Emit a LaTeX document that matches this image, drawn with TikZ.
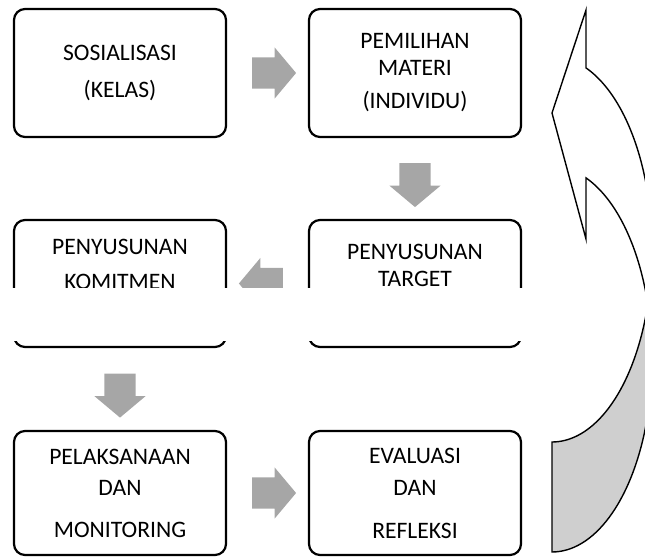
\documentclass[tikz,border=0pt]{standalone}
\usepackage{fontspec}
\setmainfont{Carlito}
\usetikzlibrary{shapes,arrows,positioning,calc}

\definecolor{flowgray}{HTML}{A6A6A6}
\definecolor{backgray}{HTML}{CFCFCF}

\begin{document}
\begin{tikzpicture}[x=1pt, y=-1pt,
  stage/.style={rectangle, draw, rounded corners=11, line width=2.2, minimum width=212, align=center, inner sep=0, font=\fontsize{23.6}{31}\selectfont},
  flow/.style={single arrow, fill=flowgray, minimum height=44, inner xsep=0, inner ysep=15.5, single arrow head extend=10, single arrow tip angle=100}]
\useasboundingbox (0,0) rectangle (645,557);
\clip (0,0) rectangle (645,557);

\node[stage, minimum height=128] (sos) at (120,73) {SOSIALISASI\\[6pt](KELAS)};
\node[stage, minimum height=128] (pem) at (415,73) {PEMILIHAN\\[-4pt]MATERI\\[2pt](INDIVIDU)};
\node[stage, minimum height=127, text depth=37] (tgt) at (415,283.5) {PENYUSUNAN\\[-4pt]TARGET};
\node[stage, minimum height=127, text depth=39] (kom) at (120,283.5) {PENYUSUNAN\\[4pt]KOMITMEN};
\node[stage, minimum height=124] (pel) at (120,493) {PELAKSANAAN\\DAN\\[11pt]MONITORING};
\node[stage, minimum height=124] (eva) at (415,493) {EVALUASI\\[1pt]DAN\\[12pt]REFLEKSI};

\node[flow] (a1) at ($(sos.east)!0.5!(pem.west)$) {};
\node[flow, rotate=-90] (a2) at ($(pem.south)!0.5!(tgt.north)$) {};
\node[flow, rotate=180] (a3) at ($(tgt.west)!0.5!(kom.east)$) {};
\node[flow, rotate=-90] (a4) at ($(kom.south)!0.5!(pel.north)$) {};
\node[flow] (a5) at ($(pel.east)!0.5!(eva.west)$) {};

% cut through the middle row
\fill[white] (0,288) rectangle (548,341);

% curved return arrow
\filldraw[fill=backgray, line width=1.4] (552,442)
  -- plot[domain=90:16.58, samples=40] ({552+100*cos(\x)},{249.2+192.8*sin(\x)})
  -- plot[domain=-16.58:90, samples=50] ({552+100*cos(\x)},{359.2+192.8*sin(\x)}) -- cycle;
\filldraw[fill=white, line width=1.4] (586,10) -- (552,113) -- (586,239) -- (586,178)
  -- plot[domain=-70.12:-16.58, samples=40] ({552+100*cos(\x)},{359.2+192.8*sin(\x)})
  -- plot[domain=16.58:-70.12, samples=50] ({552+100*cos(\x)},{249.2+192.8*sin(\x)}) -- cycle;
\end{tikzpicture}
\end{document}
